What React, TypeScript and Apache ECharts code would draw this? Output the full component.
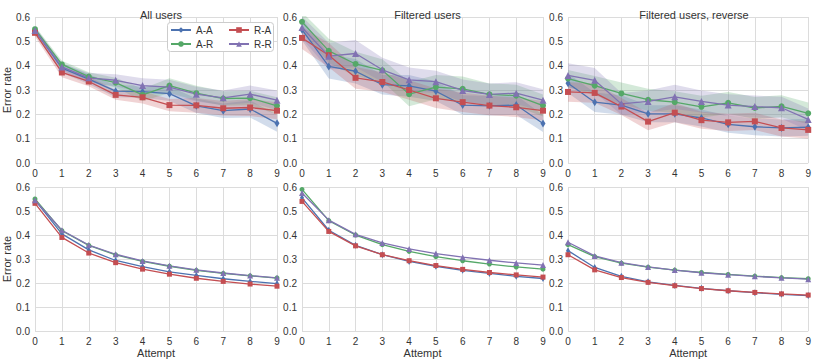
import React, { useEffect, useRef } from "react";
import * as echarts from "echarts";

const attempts = [0, 1, 2, 3, 4, 5, 6, 7, 8, 9];
const seriesNames = ["A-A", "A-R", "R-A", "R-R"];
const panelTitles = ["All users", "Filtered users", "Filtered users, reverse"];

// Top row: observed means
const allAA = [0.545, 0.39, 0.345, 0.295, 0.293, 0.285, 0.235, 0.215, 0.222, 0.163];
const allAR = [0.55, 0.405, 0.355, 0.33, 0.28, 0.318, 0.287, 0.265, 0.267, 0.235];
const allRA = [0.535, 0.372, 0.335, 0.28, 0.27, 0.238, 0.237, 0.225, 0.228, 0.215];
const allRR = [0.545, 0.395, 0.35, 0.34, 0.318, 0.312, 0.283, 0.268, 0.283, 0.258];

const filtAA = [0.548, 0.397, 0.377, 0.322, 0.317, 0.295, 0.238, 0.235, 0.238, 0.162];
const filtAR = [0.58, 0.461, 0.407, 0.381, 0.283, 0.312, 0.305, 0.282, 0.277, 0.236];
const filtRA = [0.514, 0.443, 0.35, 0.333, 0.3, 0.266, 0.25, 0.236, 0.229, 0.215];
const filtRR = [0.557, 0.439, 0.45, 0.383, 0.342, 0.334, 0.298, 0.282, 0.287, 0.258];

const revAA = [0.328, 0.25, 0.238, 0.202, 0.202, 0.185, 0.159, 0.149, 0.144, 0.147];
const revAR = [0.347, 0.318, 0.286, 0.26, 0.25, 0.231, 0.247, 0.226, 0.233, 0.204];
const revRA = [0.292, 0.288, 0.232, 0.17, 0.207, 0.176, 0.167, 0.171, 0.144, 0.136];
const revRR = [0.36, 0.34, 0.243, 0.253, 0.272, 0.253, 0.238, 0.232, 0.227, 0.179];

// Top row: band half-widths
const allAAerr = [0.015, 0.02, 0.02, 0.025, 0.025, 0.03, 0.03, 0.03, 0.035, 0.035];
const allARerr = [0.012, 0.015, 0.018, 0.02, 0.025, 0.03, 0.03, 0.03, 0.03, 0.035];
const allRAerr = [0.015, 0.02, 0.02, 0.02, 0.025, 0.025, 0.03, 0.03, 0.035, 0.035];
const allRRerr = [0.012, 0.015, 0.02, 0.025, 0.03, 0.03, 0.03, 0.03, 0.035, 0.04];

const filtAAerr = [0.045, 0.05, 0.05, 0.04, 0.045, 0.04, 0.04, 0.04, 0.04, 0.035];
const filtARerr = [0.04, 0.05, 0.05, 0.045, 0.05, 0.05, 0.05, 0.045, 0.045, 0.045];
const filtRAerr = [0.045, 0.05, 0.045, 0.04, 0.04, 0.04, 0.04, 0.04, 0.04, 0.04];
const filtRRerr = [0.045, 0.055, 0.055, 0.05, 0.05, 0.045, 0.045, 0.045, 0.045, 0.045];

const revAAerr = [0.04, 0.04, 0.04, 0.035, 0.035, 0.035, 0.035, 0.035, 0.035, 0.035];
const revARerr = [0.035, 0.04, 0.045, 0.045, 0.045, 0.045, 0.045, 0.045, 0.045, 0.045];
const revRAerr = [0.04, 0.04, 0.035, 0.035, 0.04, 0.035, 0.035, 0.035, 0.035, 0.035];
const revRRerr = [0.05, 0.05, 0.045, 0.045, 0.05, 0.045, 0.045, 0.045, 0.045, 0.045];

// Bottom row: fitted curves
const fitAllAA = [0.545, 0.405, 0.338, 0.294, 0.268, 0.247, 0.232, 0.218, 0.207, 0.198];
const fitAllAR = [0.55, 0.418, 0.357, 0.317, 0.29, 0.27, 0.253, 0.24, 0.23, 0.221];
const fitAllRA = [0.532, 0.39, 0.325, 0.285, 0.258, 0.237, 0.22, 0.207, 0.196, 0.187];
const fitAllRR = [0.545, 0.42, 0.358, 0.32, 0.292, 0.272, 0.255, 0.242, 0.231, 0.222];

const fitFiltAA = [0.555, 0.42, 0.357, 0.318, 0.29, 0.27, 0.253, 0.24, 0.228, 0.219];
const fitFiltAR = [0.59, 0.46, 0.4, 0.36, 0.332, 0.31, 0.293, 0.279, 0.267, 0.258];
const fitFiltRA = [0.54, 0.415, 0.355, 0.318, 0.293, 0.273, 0.257, 0.244, 0.234, 0.225];
const fitFiltRR = [0.575, 0.462, 0.403, 0.367, 0.342, 0.323, 0.308, 0.295, 0.284, 0.275];

const fitRevAA = [0.335, 0.265, 0.228, 0.205, 0.19, 0.178, 0.168, 0.16, 0.153, 0.148];
const fitRevAR = [0.36, 0.31, 0.283, 0.266, 0.254, 0.244, 0.236, 0.229, 0.223, 0.218];
const fitRevRA = [0.318, 0.255, 0.223, 0.203, 0.189, 0.177, 0.168, 0.161, 0.155, 0.15];
const fitRevRR = [0.37, 0.313, 0.285, 0.267, 0.254, 0.243, 0.235, 0.228, 0.222, 0.216];

const colors = ["#4C72B0", "#55A868", "#C44E52", "#8172B2"];
const symbols = ["diamond", "circle", "rect", "triangle"];

const topMeans = [
  [allAA, allAR, allRA, allRR],
  [filtAA, filtAR, filtRA, filtRR],
  [revAA, revAR, revRA, revRR],
];
const topErrs = [
  [allAAerr, allARerr, allRAerr, allRRerr],
  [filtAAerr, filtARerr, filtRAerr, filtRRerr],
  [revAAerr, revARerr, revRAerr, revRRerr],
];
const bottomFits = [
  [fitAllAA, fitAllAR, fitAllRA, fitAllRR],
  [fitFiltAA, fitFiltAR, fitFiltRA, fitFiltRR],
  [fitRevAA, fitRevAR, fitRevRA, fitRevRR],
];

const FONT = "Liberation Sans, Arial, sans-serif";
const TEXT = "#333333";
const GRIDC = "#dcdcdc";

export default function App() {
  const ref = useRef<HTMLDivElement>(null);
  useEffect(() => {
    if (!ref.current) return;
    const chart = echarts.init(ref.current, undefined, { renderer: "svg" });
    const lefts = [35, 302, 568];
    const widths = [242, 241, 242];
    const tops = [17, 187];
    const H = 146;

    const grids: any[] = [];
    const xAxes: any[] = [];
    const yAxes: any[] = [];
    const series: any[] = [];
    const titles: any[] = [];

    const symSize = (s: number, big: boolean) =>
      s === 0 ? (big ? [5, 8] : [4, 7]) : s === 3 ? (big ? 7 : 6) : big ? 6 : 5;

    for (let r = 0; r < 2; r++) {
      for (let c = 0; c < 3; c++) {
        const idx = r * 3 + c;
        grids.push({ left: lefts[c], top: tops[r], width: widths[c], height: H, containLabel: false });
        xAxes.push({
          type: "category",
          gridIndex: idx,
          data: attempts.map(String),
          boundaryGap: false,
          name: r === 1 ? "Attempt" : "",
          nameLocation: "middle",
          nameGap: 14,
          nameTextStyle: { color: TEXT, fontSize: 11, fontFamily: FONT },
          axisLine: { show: false },
          axisTick: { show: false },
          axisLabel: { color: TEXT, fontSize: 10, fontFamily: FONT, margin: 5, interval: 0 },
          splitLine: { show: true, interval: 0, lineStyle: { color: GRIDC, width: 1 } },
        });
        yAxes.push({
          type: "value",
          gridIndex: idx,
          min: 0,
          max: 0.6,
          interval: 0.1,
          name: c === 0 ? "Error rate" : "",
          nameLocation: "middle",
          nameGap: 21,
          nameTextStyle: { color: TEXT, fontSize: 11, fontFamily: FONT },
          axisLine: { show: false },
          axisTick: { show: false },
          axisLabel: {
            color: TEXT,
            fontSize: 10,
            fontFamily: FONT,
            margin: 5,
            formatter: (v: number) => v.toFixed(1),
          },
          splitLine: { show: true, lineStyle: { color: GRIDC, width: 1 } },
        });

        if (r === 0) {
          titles.push({
            text: panelTitles[c],
            left: lefts[c] + widths[c] / 2,
            top: 4,
            textAlign: "center",
            textStyle: { color: TEXT, fontSize: 11, fontWeight: "normal", fontFamily: FONT },
          });
          for (let s = 0; s < 4; s++) {
            const m = topMeans[c][s];
            const e = topErrs[c][s];
            const stack = `band-${c}-${s}`;
            series.push({
              type: "line",
              name: `lo-${c}-${s}`,
              xAxisIndex: idx,
              yAxisIndex: idx,
              stack,
              data: m.map((v, i) => v - e[i]),
              symbol: "none",
              lineStyle: { opacity: 0 },
              silent: true,
              z: 1,
            });
            series.push({
              type: "line",
              name: `hi-${c}-${s}`,
              xAxisIndex: idx,
              yAxisIndex: idx,
              stack,
              data: e.map((v) => 2 * v),
              symbol: "none",
              lineStyle: { opacity: 0 },
              areaStyle: { color: colors[s], opacity: 0.25 },
              silent: true,
              z: 1,
            });
          }
        }
        const src = r === 0 ? topMeans[c] : bottomFits[c];
        for (let s = 0; s < 4; s++) {
          series.push({
            type: "line",
            name: seriesNames[s],
            xAxisIndex: idx,
            yAxisIndex: idx,
            data: src[s],
            symbol: symbols[s],
            symbolSize: symSize(s, r === 0),
            itemStyle: { color: colors[s] },
            lineStyle: { color: colors[s], width: 1.3 },
            z: 3,
          });
        }
      }
    }

    const legendCommon = {
      orient: "vertical",
      top: 25,
      itemWidth: 20,
      itemHeight: 7,
      itemGap: 4,
      padding: 0,
      z: 20,
      textStyle: { color: TEXT, fontSize: 10, fontFamily: FONT },
    };

    chart.setOption({
      animation: false,
      backgroundColor: "#ffffff",
      title: titles,
      grid: grids,
      xAxis: xAxes,
      yAxis: yAxes,
      legend: [
        { ...legendCommon, data: ["A-A", "A-R"], left: 170 },
        { ...legendCommon, data: ["R-A", "R-R"], left: 228 },
      ],
      graphic: [
        {
          type: "rect",
          z: 15,
          shape: { x: 167.5, y: 22.5, width: 106, height: 29, r: 3 },
          style: { fill: "#ffffff", stroke: "#cccccc", lineWidth: 1 },
        },
      ],
      series,
    });
    return () => chart.dispose();
  }, []);
  return (
    <div
      ref={ref}
      style={{ position: "absolute", left: 0, top: 0, width: 814, height: 359 }}
    />
  );
}
